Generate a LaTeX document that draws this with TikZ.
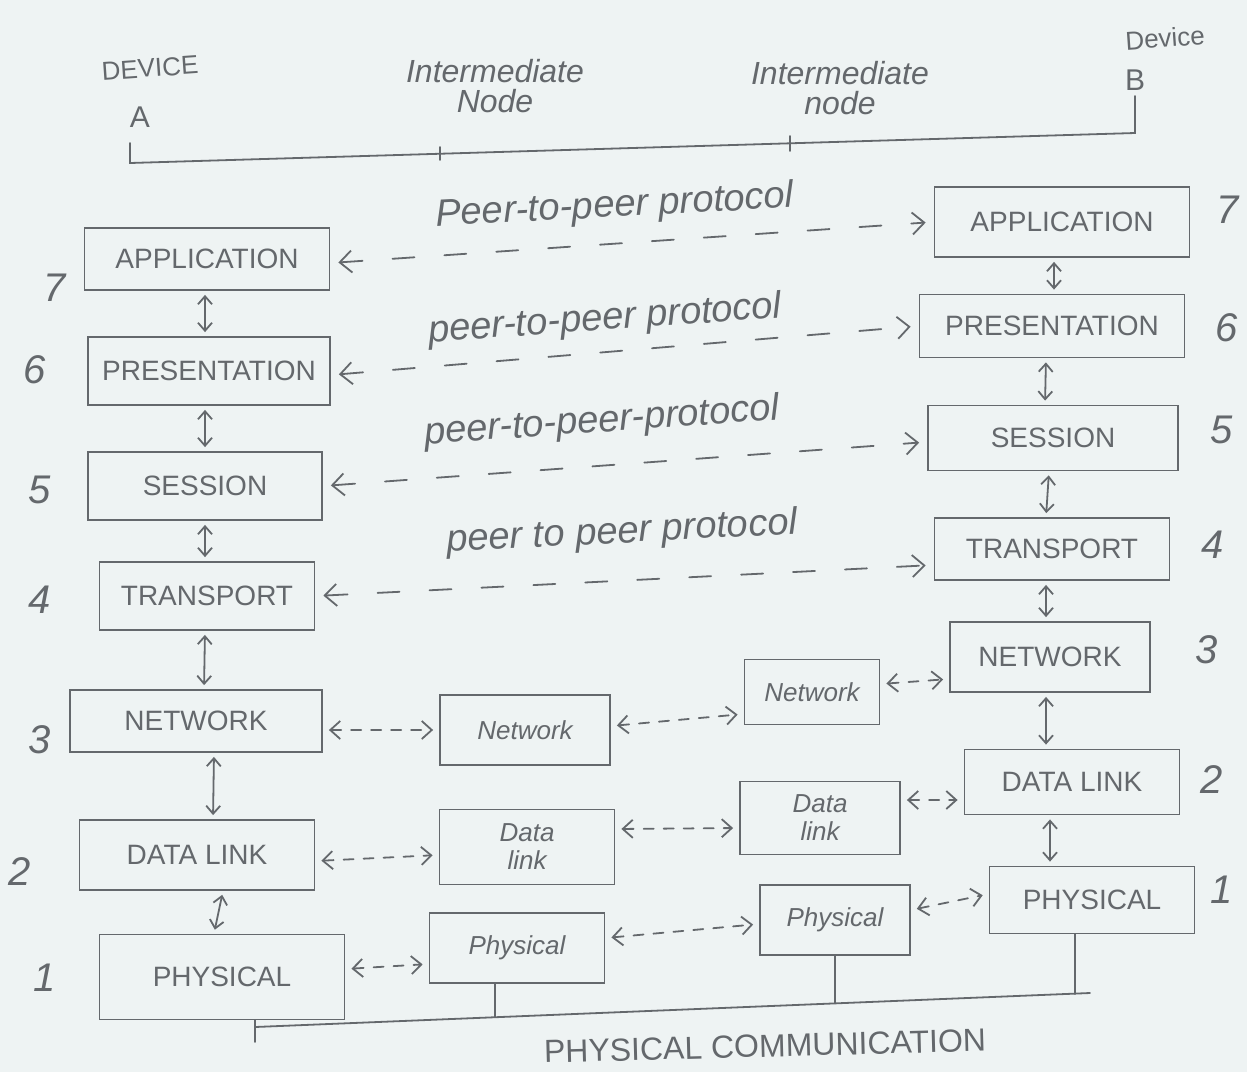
\documentclass[tikz,border=0pt]{standalone}
\usepackage{fontspec}
\setmainfont{Liberation Sans}
\usetikzlibrary{arrows.meta}
\definecolor{paper}{RGB}{238,243,243}
\definecolor{pencil}{RGB}{100,104,108}

% box helper: style, name, centre x, centre y, width, height (pixel units), text
\newcommand\osibox[7]{\node[#1, minimum width=#5*0.5pt, minimum height=#6*0.5pt] (#2) at (#3,#4) {#7};}

\tikzset{
  stroke/.style={draw=pencil, line width=0.9pt, line cap=round},
  layer/.style={stroke, text=pencil, inner sep=0pt, align=center, font=\fontsize{14}{15}\selectfont},
  hoplayer/.style={layer, font=\itshape\fontsize{13}{14}\selectfont},
  peerarrow/.style={stroke, dash pattern=on 11pt off 15pt, >={Straight Barb[length=6pt,width=11pt]}, <->, shorten <=4pt, shorten >=4pt},
  hoparrow/.style={stroke, dash pattern=on 5pt off 5pt, >={Straight Barb[length=5pt,width=9pt]}, <->, shorten <=3pt, shorten >=3pt},
  updown/.style={stroke, >={Straight Barb[length=4pt,width=7pt]}, <->, shorten <=2pt, shorten >=2pt},
  num/.style={text=pencil, font=\itshape\fontsize{20}{20}\selectfont},
  note/.style={text=pencil, align=center, font=\itshape\fontsize{16}{15}\selectfont},
  peerlabel/.style={text=pencil, font=\itshape\fontsize{19}{19}\selectfont},
}

\begin{document}
\begin{tikzpicture}[x=0.5pt,y=-0.5pt]
\useasboundingbox (0,0) rectangle (1247,1072);
\fill[paper] (0,0) rectangle (1247,1072);

% ---- header: devices, intermediate nodes and the path joining them
\node[note, font=\fontsize{13}{13}\selectfont, rotate=4] (devA) at (150,68) {DEVICE};
\node[note, font=\fontsize{15}{15}\selectfont] (labA) at (140,117) {A};
\node[note, font=\fontsize{13}{13}\selectfont, rotate=4] (devB) at (1165,38) {Device};
\node[note, font=\fontsize{15}{15}\selectfont] (labB) at (1135,80) {B};
\node[note] (int1) at (495,86) {Intermediate\\Node};
\node[note] (int2) at (840,88) {Intermediate\\node};

\coordinate (pa0) at (130,143);
\coordinate (pa1) at (130,163);
\coordinate (pb1) at (1135,133);
\coordinate (pb0) at (1135,96);
\draw[stroke] (pa0) -- (pa1) -- (pb1) -- (pb0);
\coordinate (t1a) at (440,147); \coordinate (t1b) at (440,160);
\coordinate (t2a) at (790,136); \coordinate (t2b) at (790,151);
\draw[stroke] (t1a) -- (t1b);
\draw[stroke] (t2a) -- (t2b);

% ---- device A stack
\osibox{layer}{A7}{207}{259}{245}{62}{APPLICATION}
\osibox{layer}{A6}{209}{371}{242}{68}{PRESENTATION}
\osibox{layer}{A5}{205}{486}{234}{68}{SESSION}
\osibox{layer}{A4}{207}{596}{215}{68}{TRANSPORT}
\osibox{layer}{A3}{196}{721}{252}{62}{NETWORK}
\osibox{layer}{A2}{197}{855}{235}{70}{DATA LINK}
\osibox{layer}{A1}{222}{977}{245}{85}{PHYSICAL}

\node[num] (nA7) at (55,288) {7};
\node[num] (nA6) at (35,370) {6};
\node[num] (nA5) at (40,490) {5};
\node[num] (nA4) at (40,600) {4};
\node[num] (nA3) at (40,740) {3};
\node[num] (nA2) at (20,872) {2};
\node[num] (nA1) at (45,978) {1};

\draw[updown] ([xshift=-1pt]A7.south) -- ([xshift=-2pt]A6.north);
\draw[updown] ([xshift=-2pt]A6.south) -- (A5.north);
\draw[updown] (A5.south) -- ([xshift=-1pt]A4.north);
\draw[updown] ([xshift=-1pt]A4.south) -- ([xshift=4pt]A3.north);
\draw[updown] ([xshift=9pt]A3.south) -- ([xshift=8pt]A2.north);
\draw[updown] ([xshift=13pt]A2.south) -- ([xshift=-4pt]A1.north);

% ---- device B stack
\osibox{layer}{B7}{1062}{222}{255}{70}{APPLICATION}
\osibox{layer}{B6}{1052}{326}{265}{63}{PRESENTATION}
\osibox{layer}{B5}{1053}{438}{250}{65}{SESSION}
\osibox{layer}{B4}{1052}{549}{235}{62}{TRANSPORT}
\osibox{layer}{B3}{1050}{657}{200}{70}{NETWORK}
\osibox{layer}{B2}{1072}{782}{215}{65}{DATA LINK}
\osibox{layer}{B1}{1092}{900}{205}{67}{PHYSICAL}

\node[num] (nB7) at (1228,210) {7};
\node[num] (nB6) at (1227,328) {6};
\node[num] (nB5) at (1222,430) {5};
\node[num] (nB4) at (1213,545) {4};
\node[num] (nB3) at (1207,650) {3};
\node[num] (nB2) at (1212,780) {2};
\node[num] (nB1) at (1222,890) {1};

\draw[updown] ([xshift=-4pt]B7.south) -- ([xshift=1pt]B6.north);
\draw[updown] ([xshift=-3pt]B6.south) -- ([xshift=-4pt]B5.north);
\draw[updown] ([xshift=-2pt]B5.south) -- ([xshift=-3pt]B4.north);
\draw[updown] ([xshift=-3pt]B4.south) -- ([xshift=-2pt]B3.north);
\draw[updown] ([xshift=-2pt]B3.south) -- ([xshift=-13pt]B2.north);
\draw[updown] ([xshift=-11pt]B2.south) -- ([xshift=-21pt]B1.north);

% ---- first intermediate node
\osibox{hoplayer}{N1}{525}{730}{170}{70}{Network}
\osibox{hoplayer}{D1}{527}{847}{175}{75}{Data\\link}
\osibox{hoplayer}{P1}{517}{948}{175}{70}{Physical}

% ---- second intermediate node
\osibox{hoplayer}{N2}{812}{692}{135}{65}{Network}
\osibox{hoplayer}{D2}{820}{818}{160}{73}{Data\\link}
\osibox{hoplayer}{P2}{835}{920}{150}{70}{Physical}

% ---- peer-to-peer exchanges between device A and device B
\draw[peerarrow] ([yshift=-2pt]A7.east) -- (B7.west);
\draw[peerarrow] ([yshift=-2pt]A6.east) -- (B6.west);
\draw[peerarrow] (A5.east) -- ([yshift=-2pt]B5.west);
\draw[peerarrow] (A4.east) -- ([yshift=-8pt]B4.west);
\node[peerlabel, rotate=3] (pp7) at (615,207) {Peer-to-peer protocol};
\node[peerlabel, rotate=4] (pp6) at (605,320) {peer-to-peer protocol};
\node[peerlabel, rotate=4] (pp5) at (602,422) {peer-to-peer-protocol};
\node[peerlabel, rotate=3] (pp4) at (622,533) {peer to peer protocol};

% ---- hop-by-hop exchanges for the lower three layers
\draw[hoparrow] ([yshift=-4.5pt]A3.east) -- (N1.west);
\draw[hoparrow] ([yshift=2pt]N1.east) -- ([yshift=-11pt]N2.west);
\draw[hoparrow] ([yshift=4pt]N2.east) -- ([yshift=-11pt]B3.west);
\draw[hoparrow] ([yshift=-3pt]A2.east) -- ([yshift=-4pt]D1.west);
\draw[hoparrow] ([yshift=9pt]D1.east) -- ([yshift=-5pt]D2.west);
\draw[hoparrow] ([yshift=9pt]D2.east) -- ([yshift=-9pt]B2.west);
\draw[hoparrow] ([yshift=4pt]A1.east) -- ([yshift=-8pt]P1.west);
\draw[hoparrow] ([yshift=5pt]P1.east) -- ([yshift=-2pt]P2.west);
\draw[hoparrow] ([yshift=5pt]P2.east) -- ([yshift=3pt]B1.west);

% ---- physical medium
\coordinate (m0) at (255,1042);
\coordinate (m1) at (255,1027);
\coordinate (m2) at (1090,993);
\coordinate (d1) at (495,1017);
\coordinate (d2) at (835,1003);
\coordinate (d3) at (1075,994);
\draw[stroke] (m0 |- A1.south) -- (m0);
\draw[stroke] (m1) -- (m2);
\draw[stroke] (d1 |- P1.south) -- (d1);
\draw[stroke] (d2 |- P2.south) -- (d2);
\draw[stroke] (d3 |- B1.south) -- (d3);
\node[text=pencil, font=\fontsize{16}{16}\selectfont, rotate=1.5] (phys) at (765,1046) {PHYSICAL COMMUNICATION};
\end{tikzpicture}
\end{document}
